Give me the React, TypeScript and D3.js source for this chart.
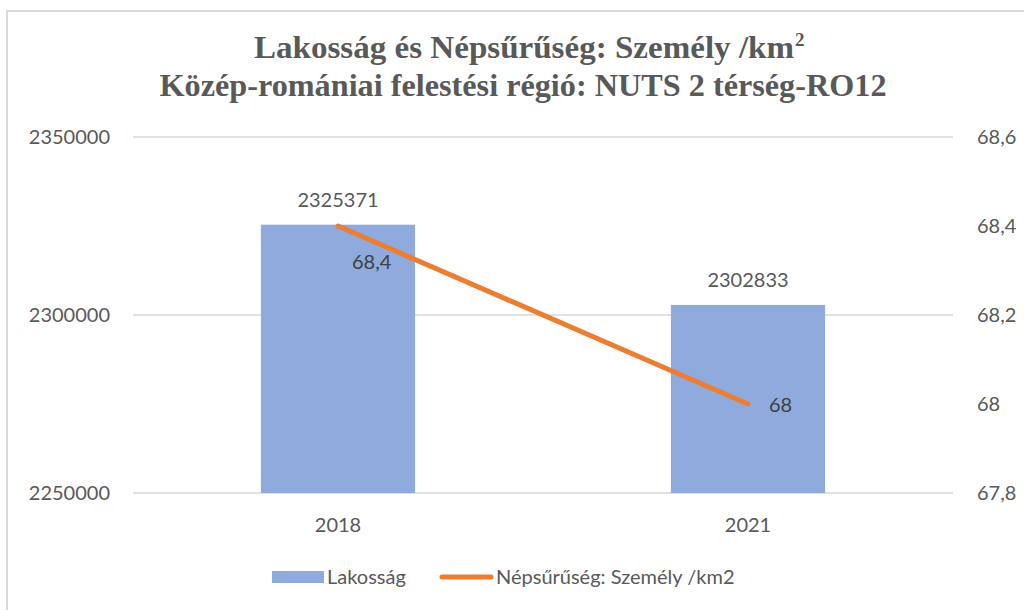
import React, { useEffect } from "react";
import * as d3 from "d3";

// data
const categories = ["2018", "2021"];
const population = [2325371, 2302833];
const density = [68.4, 68];
const densityLabels = ["68,4", "68"];
const leftTicks = [2250000, 2300000, 2350000];
const rightTicks = [67.8, 68, 68.2, 68.4, 68.6];

const titleLine1 = "Lakosság és Népsűrűség: Személy /km";
const titleLine2 = "Közép-romániai felestési régió: NUTS 2 térség-RO12";
const legendBar = "Lakosság";
const legendLine = "Népsűrűség: Személy /km2";

const W = 1024;
const H = 610;
const margin = { top: 137, right: 71, bottom: 117, left: 133 };

const BAR = "#8FAADC";
const LINE = "#ED7D31";
const TEXT = "#595959";
const GRID = "#D9D9D9";
const FONT = "Lato, 'Open Sans', sans-serif";
const SERIF = "'Liberation Serif', 'Times New Roman', serif";

const App = () => {
  useEffect(() => {
    document.body.style.margin = "0";
  }, []);

  const x = d3
    .scaleBand()
    .domain(categories)
    .range([margin.left, W - margin.right]);
  const yLeft = d3
    .scaleLinear()
    .domain([2250000, 2350000])
    .range([H - margin.bottom, margin.top]);
  const yRight = d3
    .scaleLinear()
    .domain([67.8, 68.6])
    .range([H - margin.bottom, margin.top]);

  const barW = x.bandwidth() * 0.376;
  const cx = (c: string) => (x(c) ?? 0) + x.bandwidth() / 2;

  const line = d3
    .line<number>()
    .x((_, i) => cx(categories[i]))
    .y((d) => yRight(d));

  const fmtRight = (v: number) =>
    d3.format(".1f")(v).replace(".0", "").replace(".", ",");

  return (
    <svg width={W} height={H} style={{ display: "block", background: "#fff" }}>
      <rect x={7} y={11} width={W + 10} height={H + 10} fill="none" stroke={GRID} strokeWidth={2} />

      <g fontFamily={SERIF} fontWeight="bold" fill={TEXT} textAnchor="middle">
        <text x={524} y={58} fontSize={32} textLength={540} lengthAdjust="spacingAndGlyphs">
          {titleLine1}
        </text>
        <text x={795} y={46} fontSize={19} textAnchor="start">2</text>
        <text x={523} y={96} fontSize={32} textLength={727} lengthAdjust="spacingAndGlyphs">
          {titleLine2}
        </text>
      </g>

      {leftTicks.map((t) => (
        <g key={t}>
          <line
            x1={margin.left}
            x2={W - margin.right}
            y1={yLeft(t)}
            y2={yLeft(t)}
            stroke={GRID}
            strokeWidth={1.5}
          />
          <text
            x={110}
            y={yLeft(t)}
            dy="0.35em"
            textAnchor="end"
            fontFamily={FONT}
            fontSize={20}
            fill={TEXT}
          >
            {t}
          </text>
        </g>
      ))}

      {rightTicks.map((t) => (
        <text
          key={t}
          x={977}
          y={yRight(t)}
          dy="0.35em"
          fontFamily={FONT}
          fontSize={20}
          fill={TEXT}
        >
          {fmtRight(t)}
        </text>
      ))}

      {categories.map((c, i) => (
        <g key={c}>
          <rect
            x={cx(c) - barW / 2}
            y={yLeft(population[i])}
            width={barW}
            height={yLeft(2250000) - yLeft(population[i])}
            fill={BAR}
          />
          <text
            x={cx(c)}
            y={yLeft(population[i]) - 25}
            dy="0.35em"
            textAnchor="middle"
            fontFamily={FONT}
            fontSize={20}
            fill={TEXT}
          >
            {population[i]}
          </text>
          <text
            x={cx(c)}
            y={525}
            dy="0.35em"
            textAnchor="middle"
            fontFamily={FONT}
            fontSize={20}
            fill={TEXT}
          >
            {c}
          </text>
        </g>
      ))}

      <path d={line(density) ?? ""} fill="none" stroke={LINE} strokeWidth={5} strokeLinecap="round" />

      {/* density labels: first one sits below-right of its point, second to the right */}
      <text
        x={cx(categories[0]) + 14}
        y={yRight(density[0]) + 36}
        dy="0.35em"
        fontFamily={FONT}
        fontSize={20}
        fill="#404040"
      >
        {densityLabels[0]}
      </text>
      <text
        x={cx(categories[1]) + 21}
        y={yRight(density[1]) + 1}
        dy="0.35em"
        fontFamily={FONT}
        fontSize={20}
        fill="#404040"
      >
        {densityLabels[1]}
      </text>

      <g fontFamily={FONT} fontSize={20} fill={TEXT}>
        <rect x={272} y={571} width={52} height={12} fill={BAR} />
        <text x={327} y={577} dy="0.35em">{legendBar}</text>
        <line x1={442} x2={491} y1={577} y2={577} stroke={LINE} strokeWidth={5} strokeLinecap="round" />
        <text x={496} y={577} dy="0.35em">{legendLine}</text>
      </g>
    </svg>
  );
};

export default App;
